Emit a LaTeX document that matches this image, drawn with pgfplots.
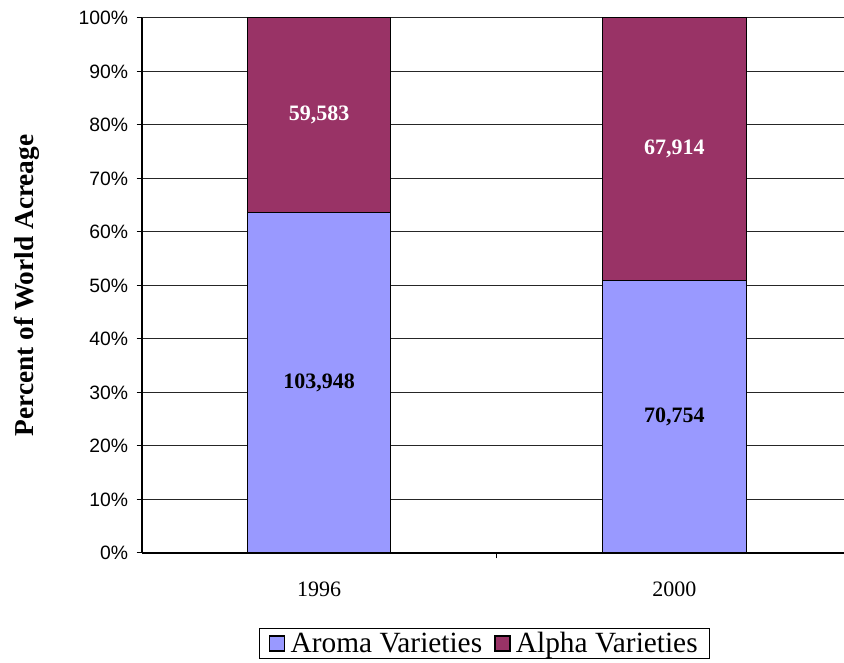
\documentclass[border=0pt]{standalone}
\usepackage{pgfplots}
\pgfplotsset{compat=1.18}
\usepackage{fontspec}
\setmainfont{Liberation Serif}
\newfontfamily\arial{Liberation Sans}
\definecolor{aroma}{HTML}{9999FF}
\definecolor{alphac}{HTML}{993366}
\begin{document}
\begin{tikzpicture}
\path[use as bounding box] (0pt,0pt) rectangle (633pt,497.25pt);
\begin{axis}[
  at={(106.5pt,82.5pt)}, anchor=south west,
  scale only axis, width=526.5pt, height=401.25pt,
  ybar stacked, bar width=0.405,
  xmin=-0.498, xmax=1.477, ymin=0, ymax=100,
  xtick={0,1}, xticklabels={1996,2000},
  major x tick style={draw=none},
  minor xtick={-0.5,0.5,1.5},
  ytick={0,10,...,100},
  /pgf/number format/assume math mode=true,
  yticklabel={\pgfmathprintnumber{\tick}\%},
  yticklabel style={font=\arial\fontsize{14.5}{16}\selectfont, xshift=-3pt},
  xticklabel style={font=\fontsize{16.5}{18}\selectfont, yshift=-14pt},
  ymajorgrids, grid style={black!85, line width=0.75pt},
  axis lines*=left, axis line style={line width=1.5pt, -},
  tick align=outside, tick style={black, line width=0.75pt},
  major tick length=4pt, minor tick length=4pt,
  ylabel={\textbf{Percent of World Acreage}},
  ylabel style={at={(axis description cs:-0.164,0.5)}, anchor=center, font=\fontsize{20.5}{23}\selectfont},
  legend columns=2,
  legend style={at={(axis description cs:0.488,-0.169)}, anchor=center, draw=black, line width=0.75pt,
    font=\fontsize{22}{26}\selectfont, inner xsep=7pt, inner ysep=1pt,
    /tikz/every odd column/.append style={column sep=2pt},
    /tikz/every even column/.append style={column sep=7pt}},
  legend image code/.code={\draw[#1, draw=black, line width=1.2pt] (0pt,-5.6pt) rectangle (11.2pt,5.6pt);},
]
\addplot[fill=aroma, draw=black, line width=0.75pt] coordinates {(0,63.57) (1,51.02)};
\addplot[fill=alphac, draw=black, line width=0.75pt] coordinates {(0,36.43) (1,48.98)};
\legend{Aroma Varieties, Alpha Varieties}
\coordinate (l1) at (axis cs:0,31.8);
\coordinate (l2) at (axis cs:0,81.8);
\coordinate (l3) at (axis cs:1,25.5);
\coordinate (l4) at (axis cs:1,75.5);
\end{axis}
\node[font=\bfseries\fontsize{16.5}{18}\selectfont] at (l1) {103,948};
\node[font=\bfseries\fontsize{16.5}{18}\selectfont, text=white] at (l2) {59,583};
\node[font=\bfseries\fontsize{16.5}{18}\selectfont] at (l3) {70,754};
\node[font=\bfseries\fontsize{16.5}{18}\selectfont, text=white] at (l4) {67,914};
\end{tikzpicture}
\end{document}
